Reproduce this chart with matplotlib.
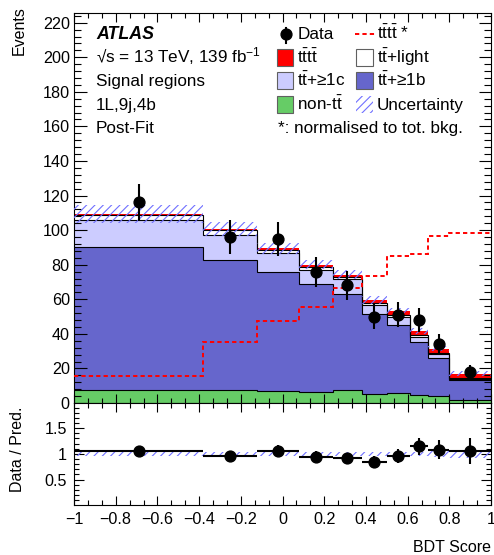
import numpy as np
import matplotlib
matplotlib.use("Agg")
import matplotlib.pyplot as plt
from matplotlib.patches import Rectangle
from matplotlib.lines import Line2D
from matplotlib.ticker import MultipleLocator, FixedLocator

plt.rcParams["font.family"] = ["Liberation Sans", "DejaVu Sans"]
plt.rcParams["mathtext.fontset"] = "custom"
plt.rcParams["mathtext.rm"] = "Liberation Sans"
plt.rcParams["mathtext.it"] = "Liberation Sans:italic"
plt.rcParams["mathtext.bf"] = "Liberation Sans:bold"
plt.rcParams["hatch.linewidth"] = 0.8
plt.rcParams["axes.linewidth"] = 0.8

# ── Data ─────────────────────────────────────────────────────────────────────
edges = np.array([-1.0, -0.38, -0.12, 0.08, 0.24, 0.38, 0.50, 0.61, 0.70, 0.80, 1.0])
non_tt = np.array([7.7, 7.4, 7.0, 6.6, 7.7, 5.4, 5.8, 4.5, 4.1, 1.7])
tt_1b = np.array([82.6, 75.6, 68.5, 62.5, 55.6, 45.8, 39.2, 30.5, 22.1, 11.8])
tt_1c = np.array([15.3, 14.1, 11.1, 8.1, 8.3, 5.4, 4.8, 3.4, 1.9, 0.3])
tt_light = np.array([3.4, 2.7, 1.7, 1.4, 1.0, 1.0, 1.0, 1.0, 0.8, 0.6])
tttt = np.array([0.4, 0.9, 1.3, 1.5, 1.7, 1.9, 2.2, 2.3, 2.5, 2.6])
tttt_norm = np.array([15.5, 35.0, 47.5, 55.6, 66.3, 73.4, 85.0, 86.0, 96.6, 98.1])
unc = np.array([5.3, 4.0, 3.2, 2.6, 2.4, 2.2, 2.0, 1.8, 1.6, 1.4])
data = np.array([116, 96, 95, 76, 68, 50, 51, 48, 34, 18], dtype=float)

C_NONTT = "#66cc66"
C_1B = "#6666cc"
C_1C = "#ccccff"
C_LIGHT = "#ffffff"
C_TTTT = "#ff0000"
C_UNC = "#7070ff"
HATCH = "////"

W, H = 494, 555
FS_TXT = 12.3
FS_TICK = 11.6
FS_AX = 11.5


def fx(px):
    return px / W


def fy(py):
    return 1 - py / H


def fmt_tick(v, pos):
    v = round(v, 3)
    if v == 0:
        return "0"
    return f"{v:g}".replace("-", "\u2212")


fig = plt.figure(figsize=(W / 100, H / 100), dpi=100)
ax = fig.add_axes([fx(74), fy(403), fx(491) - fx(74), fy(13) - fy(403)])
rax = fig.add_axes([fx(74), fy(505), fx(491) - fx(74), fy(403) - fy(505)])

centers = 0.5 * (edges[1:] + edges[:-1])
half = 0.5 * np.diff(edges)

# ── Stack ────────────────────────────────────────────────────────────────────
bottom = np.zeros_like(non_tt)
for vals, col in [(non_tt, C_NONTT), (tt_1b, C_1B), (tt_1c, C_1C),
                  (tt_light, C_LIGHT), (tttt, C_TTTT)]:
    top = bottom + vals
    ax.stairs(top, edges, baseline=bottom, fill=True, color=col, lw=0, zorder=1)
    if col != C_TTTT:
        ax.stairs(top, edges, baseline=None, color="black", lw=0.8, zorder=2)
    bottom = top
total = bottom

ax.stairs(total + unc, edges, baseline=total - unc, fill=True, facecolor="none",
          edgecolor=C_UNC, hatch=HATCH, lw=0, zorder=3)
ax.stairs(tttt_norm, edges, baseline=None, color=C_TTTT, lw=1.4,
          ls=(0, (2.2, 1.6)), zorder=4)
ax.errorbar(centers, data, yerr=np.sqrt(data), fmt="o", color="black", ms=7.8,
            elinewidth=1.5, capsize=0, zorder=6)

ax.set_xlim(-1, 1)
ax.set_ylim(0, 225.6)
ax.xaxis.set_major_locator(MultipleLocator(0.2))
ax.xaxis.set_minor_locator(MultipleLocator(0.2 / 3))
ax.yaxis.set_major_locator(MultipleLocator(20))
ax.yaxis.set_minor_locator(MultipleLocator(4))
ax.tick_params(axis="both", which="both", direction="in", top=True, right=True,
               width=0.8, labelsize=FS_TICK)
ax.tick_params(axis="x", which="major", length=6.5, labelbottom=False)
ax.tick_params(axis="x", which="minor", length=3.5)
ax.tick_params(axis="y", which="major", length=9, pad=3)
ax.tick_params(axis="y", which="minor", length=5)

# ── Ratio ────────────────────────────────────────────────────────────────────
rel = unc / total
rax.stairs(1 + rel, edges, baseline=1 - rel, fill=True, facecolor="none",
           edgecolor=C_UNC, hatch=HATCH, lw=0, zorder=3)
rax.errorbar(centers, data / total, xerr=half, yerr=np.sqrt(data) / total,
             fmt="o", color="black", ms=7.8, elinewidth=1.5, capsize=0, zorder=6)
rax.set_xlim(-1, 1)
rax.set_ylim(0.006, 1.99)
rax.xaxis.set_major_locator(MultipleLocator(0.2))
rax.xaxis.set_minor_locator(MultipleLocator(0.2 / 3))
rax.yaxis.set_major_locator(FixedLocator([0.5, 1.0, 1.5]))
rax.yaxis.set_minor_locator(MultipleLocator(0.1))
rax.yaxis.set_major_formatter(plt.FuncFormatter(fmt_tick))
rax.xaxis.set_major_formatter(plt.FuncFormatter(fmt_tick))
rax.tick_params(axis="both", which="both", direction="in", top=True, right=True,
                width=0.8, labelsize=FS_TICK)
rax.tick_params(axis="x", which="major", length=6.5, pad=5)
rax.tick_params(axis="x", which="minor", length=3.3)
rax.tick_params(axis="y", which="major", length=7, pad=5)
rax.tick_params(axis="y", which="minor", length=3.5)

# ── Axis titles ──────────────────────────────────────────────────────────────
fig.text(fx(19), fy(6), "Events", rotation=90, ha="center", va="top", fontsize=FS_AX)
fig.text(fx(17.5), fy(449), "Data / Pred.", rotation=90, ha="center", va="center",
         fontsize=FS_AX)
fig.text(fx(491), fy(551.5), "BDT Score", ha="right", va="baseline", fontsize=FS_AX)

# ── Labels ───────────────────────────────────────────────────────────────────
base = [39.3, 62.8, 86.3, 109.8, 133.3]
fig.text(fx(96), fy(base[0]), "ATLAS", fontsize=FS_TXT + 0.5, fontweight="bold",
         style="italic", va="baseline")
left_lines = ["\u221as = 13 TeV, 139 fb$^{-1}$", "Signal regions", "1L,9j,4b", "Post-Fit"]
for b, s in zip(base[1:], left_lines):
    fig.text(fx(96), fy(b), s, fontsize=FS_TXT, va="baseline")

# legend
TT = r"$\mathrm{t\bar{t}}$"
fig.add_artist(Line2D([fx(285.7)] * 2, [fy(28.3), fy(42.7)], color="black", lw=1.5,
                      transform=fig.transFigure))
fig.add_artist(Line2D([fx(285.7)], [fy(34.3)], marker="o", ms=7.8, color="black",
                      transform=fig.transFigure))
fig.text(fx(297.3), fy(base[0]), "Data", fontsize=FS_TXT, va="baseline")
fig.add_artist(Line2D([fx(355), fx(375)], [fy(33.5)] * 2, color=C_TTTT, lw=1.4,
                      ls=(0, (2.2, 1.6)), transform=fig.transFigure))
fig.text(fx(376.7), fy(base[0]), r"$\mathrm{t\bar{t}t\bar{t}}$ *", fontsize=FS_TXT,
         va="baseline")

boxes = [
    (276.7, 1, C_TTTT, r"$\mathrm{t\bar{t}t\bar{t}}$", False),
    (356.0, 1, C_LIGHT, TT + "+light", False),
    (276.7, 2, C_1C, TT + "+\u22651c", False),
    (356.0, 2, C_1B, TT + "+\u22651b", False),
    (276.7, 3, C_NONTT, "non-" + TT, False),
    (356.0, 3, "none", "Uncertainty", True),
]
for x0, row, col, lab, hatched in boxes:
    yc = base[row] - 5.5
    if hatched:
        r = Rectangle((fx(x0), fy(yc + 8.5)), 16.7 / W, 17 / H, facecolor="none",
                      edgecolor=C_UNC, hatch=HATCH, lw=0, transform=fig.transFigure)
    else:
        r = Rectangle((fx(x0), fy(yc + 8.5)), 16.7 / W, 17 / H, facecolor=col,
                      edgecolor="#606060", lw=0.8, transform=fig.transFigure)
    fig.add_artist(r)
    fig.text(fx(x0 + 20.6), fy(base[row]), lab, fontsize=FS_TXT, va="baseline")

fig.text(fx(278.3), fy(base[4]), "*: normalised to tot. bkg.", fontsize=FS_TXT,
         va="baseline")

fig.savefig("out.png", dpi=100)
